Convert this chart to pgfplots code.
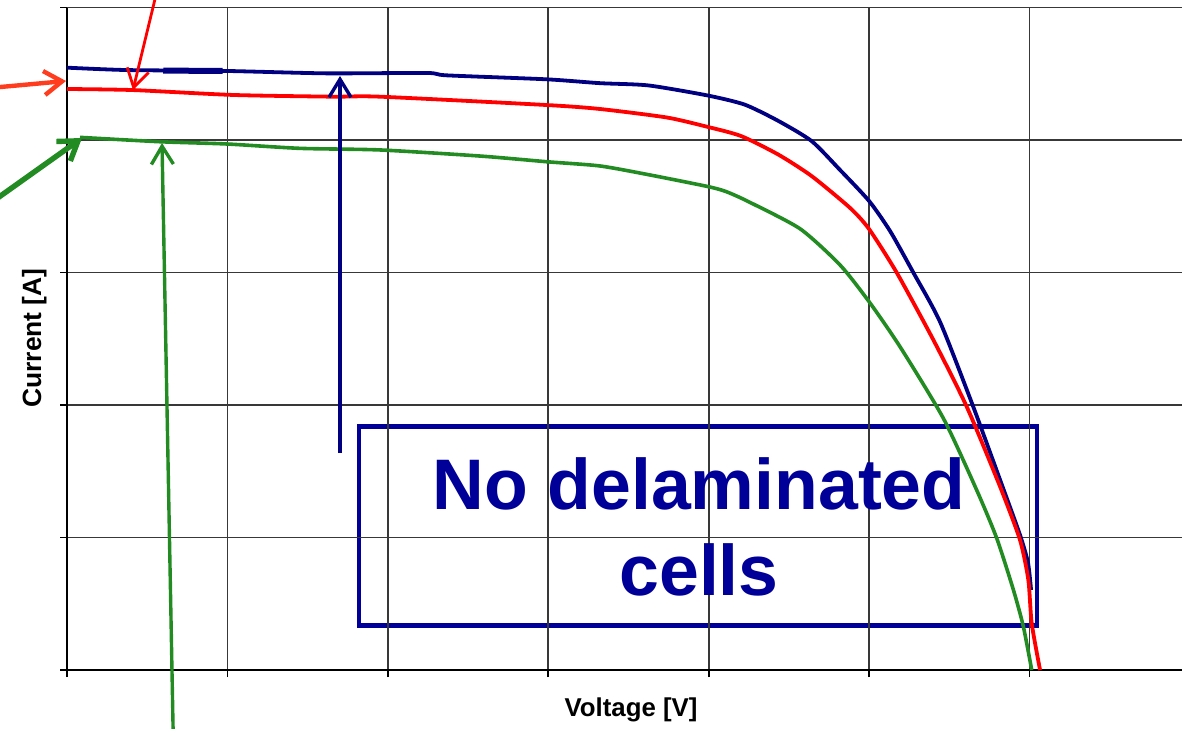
\documentclass[border=0pt]{standalone}
\usepackage{fontspec}
\setmainfont{Liberation Sans}
\usepackage{pgfplots}
\pgfplotsset{compat=1.18}
\usetikzlibrary{arrows.meta}
\definecolor{cnavy}{RGB}{0,0,128}
\definecolor{cbox}{RGB}{0,0,153}
\definecolor{cred}{RGB}{255,0,0}
\definecolor{cgreen}{RGB}{34,139,34}
\definecolor{corange}{RGB}{255,60,30}
\begin{document}
\begin{tikzpicture}
\path[use as bounding box] (0pt,0pt) rectangle (591pt,-364pt);
\clip (0pt,0pt) rectangle (591pt,-364pt);
\begin{scope}[x=0.5pt,y=-0.5pt]
\draw[cbox, line width=2.3pt] (359,426.5) rectangle (1037,625.5);
\end{scope}
\begin{axis}[at={(33.5pt,-335pt)}, anchor=south west, scale only axis,
  width=557.5pt, height=331.25pt,
  xmin=0, xmax=6.951, ymin=0, ymax=5,
  axis x line*=bottom, axis y line*=left,
  axis line style={black, line width=0.9pt},
  xtick={0,...,6}, ytick={0,...,4}, xticklabels={}, yticklabels={},
  tick align=outside, major tick length=3.5pt,
  tick style={black, line width=0.9pt},
  grid=major, major grid style={black!78, line width=0.9pt},
  extra y ticks={5}, extra y tick labels={},
  extra y tick style={grid style={black!35, line width=0.9pt}},
  clip=false]
% blue
\addplot[cnavy, line width=1.9pt, smooth, tension=0.4] coordinates {
(0,4.546)(0.372,4.528)(0.996,4.521)(1.619,4.503)(2.243,4.506)(2.367,4.488)
(2.991,4.458)(3.323,4.429)(3.624,4.412)(3.994,4.336)(4.225,4.267)(4.433,4.145)
(4.642,3.992)(4.819,3.774)(5.000,3.540)(5.131,3.313)(5.274,3.004)(5.443,2.626)
(5.648,1.992)(5.817,1.434)(5.941,1.019)(5.991,0.808)(6.010,0.604)};
\addplot[cnavy, line width=3pt] coordinates {(0.60,4.524)(0.97,4.521)};
% red
\addplot[cred, line width=1.9pt, smooth, tension=0.4] coordinates {
(0,4.385)(0.411,4.377)(1.035,4.340)(1.658,4.327)(1.951,4.327)(2.991,4.264)
(3.323,4.234)(3.739,4.170)(3.994,4.099)(4.202,4.030)(4.433,3.891)(4.642,3.728)
(4.882,3.487)(5.000,3.328)(5.173,2.998)(5.401,2.491)(5.609,1.987)
(5.817,1.383)(5.941,0.981)(5.993,0.679)(6.014,0.352)(6.066,0)};
% green
\addplot[cgreen, line width=1.8pt, smooth, tension=0.4] coordinates {
(0.081,4.020)(0.580,3.987)(0.996,3.970)(1.453,3.937)(1.951,3.925)(2.575,3.879)
(2.991,3.836)(3.323,3.804)(3.635,3.736)(3.994,3.649)(4.108,3.611)(4.248,3.535)
(4.570,3.330)(4.819,3.057)(5.000,2.780)(5.193,2.440)(5.463,1.900)
(5.671,1.358)(5.796,0.994)(5.900,0.604)(5.962,0.327)(6.014,0)};
\end{axis}
\begin{scope}[x=0.5pt,y=-0.5pt]
\draw[cred, line width=1.4pt, -{Straight Barb[length=9pt,width=11pt]}] (156,-5) -- (133,90);
\draw[corange, line width=2.2pt, -{Straight Barb[length=9pt,width=12pt]}] (-5,87.5) -- (66,81);
\draw[cnavy, line width=1.7pt, -{Straight Barb[length=9pt,width=11pt]}] (340,453) -- (340,76);
\draw[cgreen, line width=1.7pt, -{Straight Barb[length=9pt,width=11pt]}] (173.3,740) -- (162,143);
\draw[cgreen, line width=2.7pt, -{Straight Barb[length=9pt,width=12pt]}] (-8,202) -- (82,138);
\node[cbox, font=\fontsize{35.8}{43}\selectfont\bfseries, anchor=base, inner sep=0pt] at (699,509) {No delaminated};
\node[cbox, font=\fontsize{35.8}{43}\selectfont\bfseries, anchor=base, inner sep=0pt] at (699,595) {cells};
\node[black, font=\fontsize{12.9}{15}\selectfont\bfseries, anchor=base, inner sep=0pt] at (631,716.7) {Voltage [V]};
\node[black, font=\fontsize{13.2}{15}\selectfont\bfseries, anchor=base, inner sep=0pt, rotate=90] at (41,338) {Current [A]};
\end{scope}
\end{tikzpicture}
\end{document}
